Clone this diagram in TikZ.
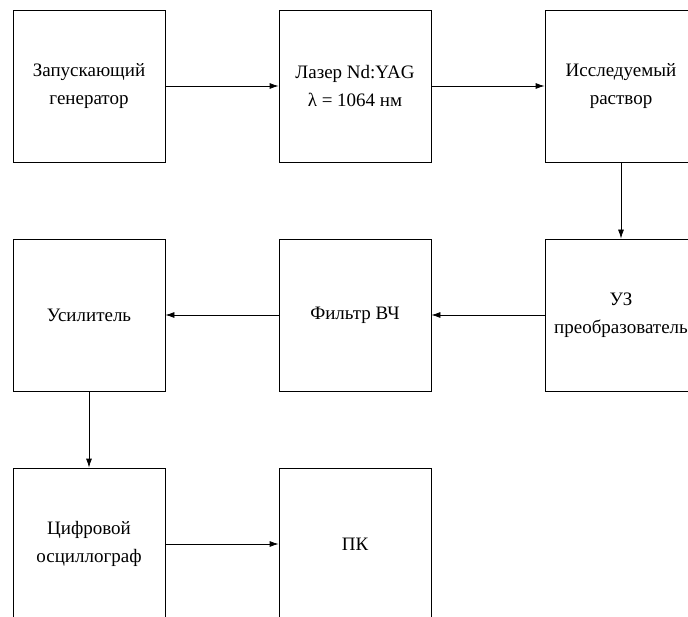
\documentclass[tikz,border=0pt]{standalone}
\usepackage{fontspec}
\setmainfont{Liberation Serif}
\usetikzlibrary{arrows.meta}

\tikzset{
  blk/.style={draw, line width=0.8pt, minimum size=152pt, inner sep=0pt,
    align=center, font=\fontsize{19}{28}\selectfont}
}

\begin{document}
\begin{tikzpicture}[x=1pt, y=-1pt, >={Latex[length=9pt,width=6pt]}, line width=0.8pt]
  \useasboundingbox (0,0) rectangle (688,617);
  \clip (0,0) rectangle (688,617);

  \node [blk] (gen)   at (89,86)   {Запускающий\\генератор};
  \node [blk] (laser) at (355,86)  {Лазер Nd:YAG\\λ = 1064 нм};
  \node [blk] (sol)   at (621,86)  {Исследуемый\\раствор};
  \node [blk] (uz)    at (621,315) {УЗ\\преобразователь};
  \node [blk] (filt)  at (355,315) {Фильтр ВЧ};
  \node [blk] (amp)   at (89,315)  {Усилитель};
  \node [blk] (osc)   at (89,544)  {Цифровой\\осциллограф};
  \node [blk] (pc)    at (355,544) {ПК};

  \path [->] (gen) edge (laser);
  \path [->] (laser) edge (sol);
  \path [->] (sol) edge (uz);
  \path [->] (uz) edge (filt);
  \path [->] (filt) edge (amp);
  \path [->] (amp) edge (osc);
  \path [->] (osc) edge (pc);
\end{tikzpicture}
\end{document}
